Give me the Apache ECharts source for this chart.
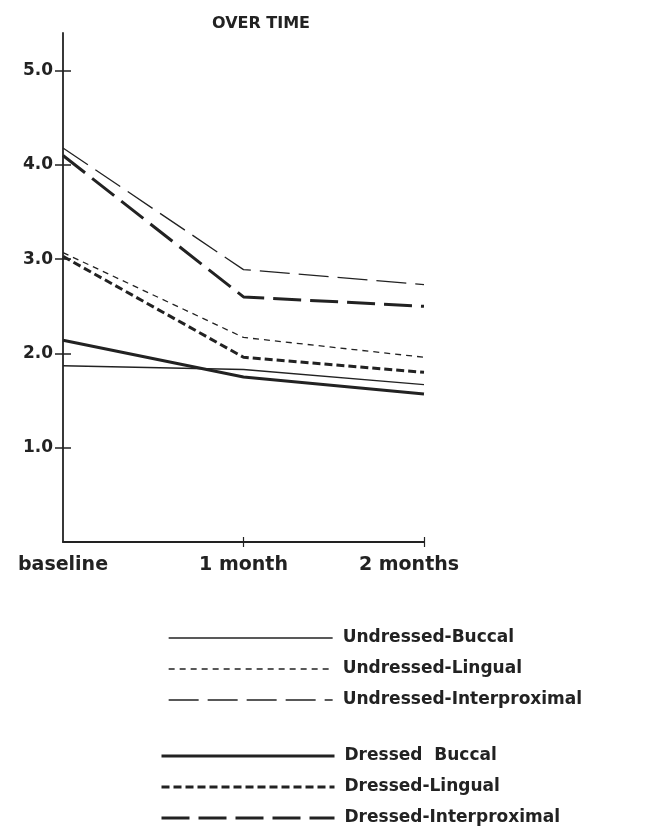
<!DOCTYPE html>
<html>
<head>
<meta charset="utf-8">
<script src="https://cdn.jsdelivr.net/npm/echarts@6/dist/echarts.min.js"></script>
<style>
html,body{margin:0;padding:0;background:#fff;}
#chart{width:651px;height:834px;}
</style>
</head>
<body>
<div id="chart"></div>
<script>
const categories = ['baseline', '1 month', '2 months'];
const yTickValues = [1, 2, 3, 4, 5];
const undressedBuccal = [1.87, 1.83, 1.67];
const undressedLingual = [3.07, 2.17, 1.96];
const undressedInterproximal = [4.18, 2.89, 2.73];
const dressedBuccal = [2.14, 1.75, 1.57];
const dressedLingual = [3.03, 1.96, 1.80];
const dressedInterproximal = [4.10, 2.60, 2.50];
const undressedNames = ['Undressed-Buccal', 'Undressed-Lingual', 'Undressed-Interproximal'];
const dressedNames = ['Dressed  Buccal', 'Dressed-Lingual', 'Dressed-Interproximal'];

const ink = '#222';
const font = 'DejaVu Sans';

function mk(name, data, width, dash) {
  return {
    name: name, type: 'line', data: data, symbol: 'none', showSymbol: false,
    xAxisIndex: 0, yAxisIndex: 0,
    lineStyle: { color: ink, width: width, type: dash },
    itemStyle: { color: ink },
    emphasis: { disabled: true },
    animation: false
  };
}

const chart = echarts.init(document.getElementById('chart'));
const legendCommon = {
  orient: 'vertical', padding: 0, itemHeight: 18, itemGap: 13,
  height: 100,
  itemStyle: { opacity: 0 },
  lineStyle: { width: 'inherit', type: 'inherit', opacity: 1 },
  textStyle: { fontFamily: font, fontWeight: 'bold', fontSize: 17, color: ink, lineHeight: 18, padding: [0, 0, 0, 5] },
  selectedMode: false
};
chart.setOption({
  animation: false,
  title: {
    text: 'OVER TIME', left: 256, top: 11, textAlign: 'center',
    textStyle: { fontFamily: font, fontWeight: 'bold', fontSize: 16, color: ink }
  },
  legend: [
    Object.assign({}, legendCommon, { top: 629, left: 168, itemWidth: 164, data: undressedNames }),
    Object.assign({}, legendCommon, { top: 747, left: 160, itemWidth: 173, data: dressedNames })
  ],
  grid: { left: 63, right: 227, top: 33, bottom: 292, containLabel: false },
  xAxis: [
    {
      type: 'category', data: categories, boundaryGap: false,
      axisLine: { lineStyle: { color: ink, width: 1.8 } },
      axisTick: { show: true, length: 5, interval: function (i) { return i > 0; }, lineStyle: { color: ink, width: 1.2 } },
      axisLabel: {
        margin: 14, interval: 0,
        fontFamily: font, fontWeight: 'bold', fontSize: 19, color: ink,
        formatter: function (v, i) { return i === 2 ? '{s|' + v + '}' : v; },
        rich: { s: { fontFamily: font, fontWeight: 'bold', fontSize: 19, color: ink, padding: [0, 30, 0, 0] } }
      },
      splitLine: { show: false }
    },
    {
      type: 'category', data: categories, boundaryGap: false, position: 'bottom',
      axisLine: { show: false },
      axisTick: { show: true, inside: true, length: 5, interval: function (i) { return i > 0; }, lineStyle: { color: ink, width: 1.2 } },
      axisLabel: { show: false },
      splitLine: { show: false }
    }
  ],
  yAxis: [
    {
      type: 'value', min: 0, max: 5.4, interval: 1,
      axisLine: { show: true, lineStyle: { color: ink, width: 1.8 } },
      axisTick: { show: true, length: 8, customValues: yTickValues, lineStyle: { color: ink, width: 1.5 } },
      axisLabel: {
        margin: 10, customValues: yTickValues,
        fontFamily: font, fontWeight: 'bold', fontSize: 17, color: ink,
        formatter: function (v) { return v.toFixed(1); }
      },
      splitLine: { show: false }
    },
    {
      type: 'value', min: 0, max: 5.4, interval: 1, position: 'left',
      axisLine: { show: false },
      axisTick: { show: true, inside: true, length: 8, customValues: yTickValues, lineStyle: { color: ink, width: 1.5 } },
      axisLabel: { show: false },
      splitLine: { show: false }
    }
  ],
  series: [
    mk(undressedNames[0], undressedBuccal, 1.3, 'solid'),
    mk(undressedNames[1], undressedLingual, 1.3, [6, 5]),
    mk(undressedNames[2], undressedInterproximal, 1.3, [30, 9]),
    mk(dressedNames[0], dressedBuccal, 3, 'solid'),
    mk(dressedNames[1], dressedLingual, 3, [8, 4]),
    mk(dressedNames[2], dressedInterproximal, 3, [28, 9])
  ]
});
</script>
</body>
</html>
